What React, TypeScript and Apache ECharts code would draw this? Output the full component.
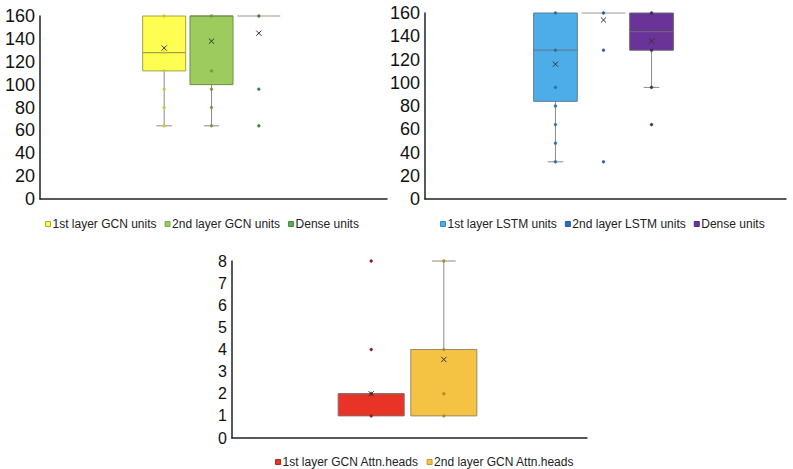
import React, { useEffect, useRef } from 'react';
import * as echarts from 'echarts';

// Box statistics per series: [min, Q1, median, Q3, max, mean]
const gcnNames = ['1st layer GCN units', '2nd layer GCN units', 'Dense units'];
const gcnStats = [
  [64, 112, 128, 160, 160, 132],
  [64, 100, 160, 160, 160, 138],
  [160, 160, 160, 160, 160, 145],
];
const gcnPoints = [
  [160, 128, 112, 96, 80, 64],
  [160, 112, 96, 80, 64],
  [160, 96, 64],
];

const lstmNames = ['1st layer LSTM units', '2nd layer LSTM units', 'Dense units'];
const lstmStats = [
  [32, 84, 128, 160, 160, 116],
  [160, 160, 160, 160, 160, 154],
  [96, 128, 144, 160, 160, 136],
];
const lstmPoints = [
  [160, 128, 96, 80, 64, 48, 32],
  [160, 128, 32],
  [160, 128, 96, 64],
];

const headNames = ['1st layer GCN Attn.heads', '2nd layer GCN Attn.heads'];
const headStats = [
  [1, 1, 2, 2, 2, 2],
  [1, 1, 4, 4, 8, 3.55],
];
const headPoints = [
  [8, 4, 2, 1],
  [8, 4, 2, 1],
];

const unitTicks = { min: 0, max: 160, interval: 20 };
const headTicks = { min: 0, max: 8, interval: 1 };

type Panel = {
  names: string[];
  stats: number[][];
  points: number[][];
  fills: string[];
  borders: string[];
  dots: string[];
  legendColors: string[];
  legendBorders: string[];
  grid: { left: number; top: number; width: number; height: number };
  ticks: { min: number; max: number; interval: number };
  boxFrac: number;
  fontSize: number;
  legendPos: { left: number; top: number };
};

const panels: Panel[] = [
  {
    names: gcnNames,
    stats: gcnStats,
    points: gcnPoints,
    fills: ['#fdfd52', '#9dcb5e', '#5aa955'],
    borders: ['#a3a346', '#6f8f45', '#8a8a8a'],
    dots: ['#c9c93a', '#6e9a3f', '#3f7d3a'],
    legendColors: ['#fdfd52', '#9dcb5e', '#5aa955'],
    legendBorders: ['#a8a83a', '#7fa650', '#4a8a46'],
    grid: { left: 40, top: 16, width: 347, height: 183 },
    ticks: unitTicks,
    boxFrac: 0.124,
    fontSize: 18,
    legendPos: { left: 45, top: 218 },
  },
  {
    names: lstmNames,
    stats: lstmStats,
    points: lstmPoints,
    fills: ['#4dade8', '#2f6dbb', '#6a3398'],
    borders: ['#5f7f94', '#8a8a8a', '#6d6478'],
    dots: ['#2f6aa0', '#2a5a9a', '#3a2a60'],
    legendColors: ['#4dade8', '#2f6dbb', '#6a3398'],
    legendBorders: ['#3a8ac0', '#275c9e', '#56297d'],
    grid: { left: 425, top: 13, width: 361, height: 186 },
    ticks: unitTicks,
    boxFrac: 0.121,
    fontSize: 18,
    legendPos: { left: 440, top: 218 },
  },
  {
    names: headNames,
    stats: headStats,
    points: headPoints,
    fills: ['#e83426', '#f4c343'],
    borders: ['#8a6a66', '#9a8a6a'],
    dots: ['#8a1e18', '#b08a2a'],
    legendColors: ['#e83426', '#f4c343'],
    legendBorders: ['#b8281e', '#c99a2e'],
    grid: { left: 232, top: 261, width: 355, height: 177 },
    ticks: headTicks,
    boxFrac: 0.186,
    fontSize: 16,
    legendPos: { left: 275, top: 456 },
  },
];

function makeRenderer(panel: Panel, idx: number) {
  const count = panel.names.length;
  return (_params: any, api: any) => {
    const band = api.size([1, 0])[0];
    const center = api.coord([0, 0])[0];
    const w = band * panel.boxFrac;
    const cx = center - 2 + (idx - (count - 1) / 2) * w * 1.1;
    const y = (v: number) => api.coord([0, v])[1];
    const lo = api.value(1);
    const q1 = api.value(2);
    const med = api.value(3);
    const q3 = api.value(4);
    const hi = api.value(5);
    const mean = api.value(6);
    const capW = w * 0.36;
    const whisker = { stroke: '#8c8c8c', lineWidth: 1 };
    const children: any[] = [];
    if (lo < q1) {
      children.push({ type: 'line', shape: { x1: cx, y1: y(q1), x2: cx, y2: y(lo) }, style: whisker });
      children.push({ type: 'line', shape: { x1: cx - capW / 2, y1: y(lo), x2: cx + capW / 2, y2: y(lo) }, style: whisker });
    }
    if (hi > q3) {
      children.push({ type: 'line', shape: { x1: cx, y1: y(q3), x2: cx, y2: y(hi) }, style: whisker });
      children.push({ type: 'line', shape: { x1: cx - capW / 2, y1: y(hi), x2: cx + capW / 2, y2: y(hi) }, style: whisker });
    }
    if (q3 > q1) {
      children.push({
        type: 'rect',
        shape: { x: cx - w / 2, y: y(q3), width: w, height: y(q1) - y(q3) },
        style: { fill: panel.fills[idx], stroke: panel.borders[idx], lineWidth: 1 },
      });
      children.push({
        type: 'line',
        shape: { x1: cx - w / 2, y1: y(med), x2: cx + w / 2, y2: y(med) },
        style: { stroke: panel.borders[idx], lineWidth: 1.2 },
      });
    } else {
      children.push({
        type: 'line',
        shape: { x1: cx - w / 2, y1: y(q3), x2: cx + w / 2, y2: y(q3) },
        style: { stroke: '#9a9a9a', lineWidth: 1.2 },
      });
    }
    panel.points[idx].forEach((v) => {
      children.push({
        type: 'circle',
        shape: { cx, cy: y(v), r: 1.4 },
        style: { fill: panel.dots[idx], stroke: panel.dots[idx], lineWidth: 0.5 },
      });
    });
    const my = y(mean);
    const s = 2.6;
    const cross = { stroke: '#333', lineWidth: 1 };
    children.push({ type: 'line', shape: { x1: cx - s, y1: my - s, x2: cx + s, y2: my + s }, style: cross });
    children.push({ type: 'line', shape: { x1: cx - s, y1: my + s, x2: cx + s, y2: my - s }, style: cross });
    return { type: 'group', children };
  };
}

function buildOption() {
  const grid: any[] = [];
  const xAxis: any[] = [];
  const yAxis: any[] = [];
  const legend: any[] = [];
  const series: any[] = [];
  panels.forEach((panel, p) => {
    grid.push({ ...panel.grid, containLabel: false });
    xAxis.push({
      type: 'category',
      gridIndex: p,
      data: [''],
      axisLine: { lineStyle: { color: '#222', width: 1.5 } },
      axisTick: { show: false },
      axisLabel: { show: false },
      splitLine: { show: false },
    });
    yAxis.push({
      type: 'value',
      gridIndex: p,
      min: panel.ticks.min,
      max: panel.ticks.max,
      interval: panel.ticks.interval,
      axisLine: { show: true, lineStyle: { color: '#222', width: 1.5 } },
      axisTick: { show: false },
      splitLine: { show: false },
      axisLabel: {
        color: '#111',
        fontSize: panel.fontSize,
        fontFamily: 'Liberation Sans, Arial, sans-serif',
        margin: 5,
      },
    });
    legend.push({
      left: panel.legendPos.left,
      top: panel.legendPos.top,
      orient: 'horizontal',
      icon: 'rect',
      itemWidth: 5,
      itemHeight: 5,
      itemGap: 8,
      padding: 0,
      selectedMode: false,
      textStyle: {
        fontSize: 12,
        color: '#222',
        fontFamily: 'Liberation Sans, Arial, sans-serif',
        padding: [0, 0, 0, -3],
      },
      data: panel.names.map((name, i) => ({
        name,
        itemStyle: { color: panel.legendColors[i], borderColor: panel.legendBorders[i], borderWidth: 1 },
      })),
    });
    panel.names.forEach((name, i) => {
      series.push({
        type: 'custom',
        name,
        xAxisIndex: p,
        yAxisIndex: p,
        itemStyle: { color: panel.legendColors[i] },
        encode: { x: 0, y: [1, 2, 3, 4, 5] },
        data: [[0, ...panel.stats[i]]],
        renderItem: makeRenderer(panel, i),
        clip: false,
      });
    });
  });
  return { animation: false, backgroundColor: '#fff', grid, xAxis, yAxis, legend, series };
}

export default function App() {
  const ref = useRef<HTMLDivElement>(null);
  useEffect(() => {
    if (!ref.current) return;
    const chart = echarts.init(ref.current, undefined, { renderer: 'svg' });
    chart.setOption(buildOption());
    return () => chart.dispose();
  }, []);
  return (
    <div
      ref={ref}
      style={{ position: 'fixed', left: 0, top: 0, width: 793, height: 469, background: '#fff' }}
    />
  );
}
